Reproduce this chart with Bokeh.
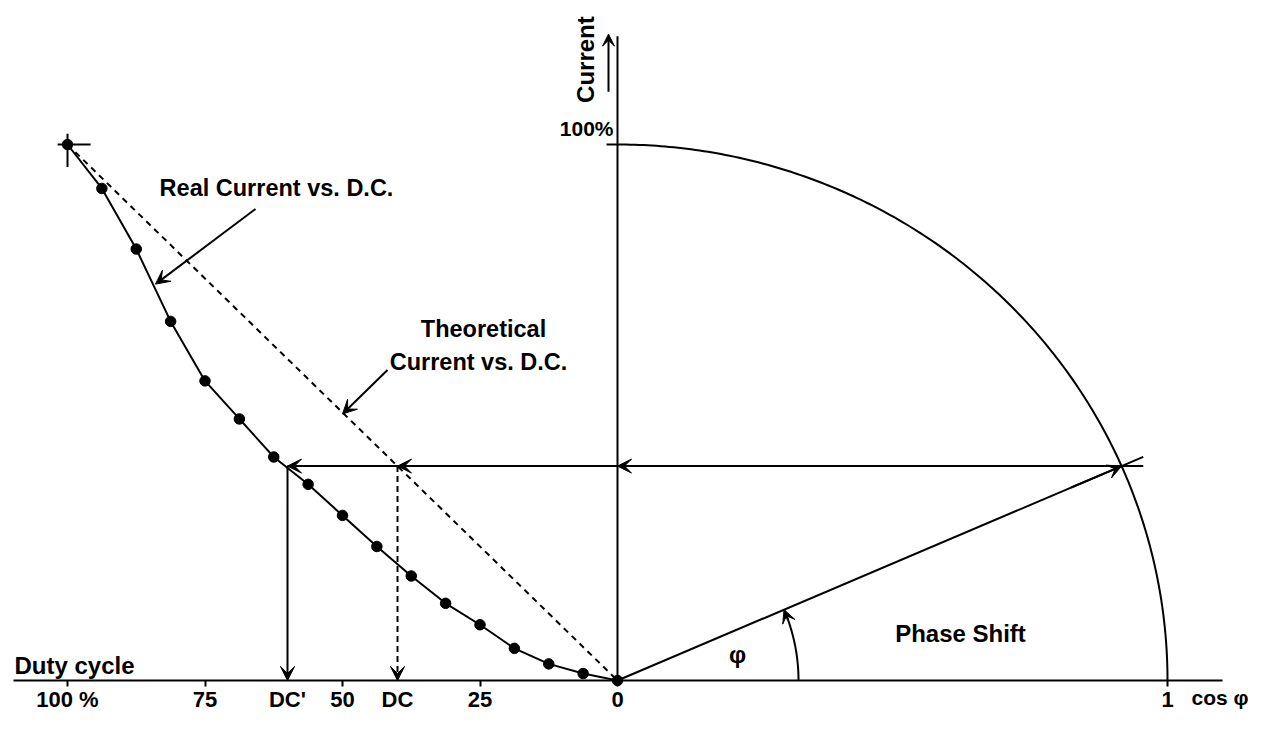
import math
import numpy as np
from bokeh.plotting import figure
from bokeh.models import LinearAxis, FixedTicker, Label, Arrow, VeeHead
from bokeh.embed import file_html
from bokeh.resources import INLINE

# ---------------- data ----------------
duty_cycle_pct = [100, 93.75, 87.5, 81.25, 75, 68.75, 62.5, 56.25, 50,
                  43.75, 37.5, 31.25, 25, 18.75, 12.5, 6.25, 0]
real_current = [1.0, 0.918, 0.805, 0.670, 0.559, 0.488, 0.417, 0.366, 0.308,
                0.250, 0.195, 0.144, 0.104, 0.060, 0.031, 0.013, 0.0]
theory_duty = [100, 0]
theory_current = [1.0, 0.0]
duty_ticks = [100, 75, 50, 25, 0]
duty_tick_labels = ["100 %", "75", "50", "25", "0"]
cos_ticks = [1]
cos_tick_labels = ["1"]
dc_marks = [60, 40]            # DC' (real) and DC (theoretical)
dc_labels = ["DC'", "DC"]
current_level = 0.4

# ---------------- geometry ----------------
W, H = 1248, 713
SX, OX = 550.0, 617.0          # px per unit and origin (x)
SY, OY = 536.0, 680.0          # px per unit and origin (y)

def dx(duty):                  # duty cycle % -> x (left side negative)
    return -duty / 100.0

def ref(x, y):                 # reference-picture pixel -> data (annotation placement)
    return (x - 617.0) / 550.0, (693.0 - y) / 549.0

p = figure(width=W, height=H, output_backend="svg", toolbar_location=None,
           x_range=(-OX / SX, (W - OX) / SX), y_range=((OY - H) / SY, OY / SY),
           x_axis_type=None, y_axis_type=None, min_border=0,
           background_fill_color="white", border_fill_color="white")
p.outline_line_color = None

FONT = "Liberation Sans"
K = "black"

# ---------------- axes ----------------
def make_axis(ticks, labels, tick_color):
    return LinearAxis(fixed_location=0, ticker=FixedTicker(ticks=ticks),
                      major_label_overrides={t: l for t, l in zip(ticks, labels)},
                      axis_line_color=None, major_tick_in=0, major_tick_out=6,
                      major_tick_line_width=2, major_tick_line_color=tick_color,
                      minor_tick_line_color=None, major_label_standoff=0,
                      major_label_text_font=FONT, major_label_text_font_size="22px",
                      major_label_text_font_style="bold", major_label_text_color=K)

xticks = [dx(d) for d in duty_ticks] + cos_ticks
p.add_layout(make_axis(xticks, duty_tick_labels + cos_tick_labels, K), "below")
dticks = [dx(d) for d in dc_marks]
p.add_layout(make_axis(dticks, dc_labels, None), "below")

xa, _ = ref(13, 0)
xb, _ = ref(1222, 0)
p.segment(x0=[xa], y0=[0], x1=[xb], y1=[0], line_color=K, line_width=2)
_, ytop = ref(0, 33)
p.segment(x0=[0], y0=[0], x1=[0], y1=[ytop], line_color=K, line_width=2)
xt, _ = ref(606, 0)
p.segment(x0=[xt], y0=[1.0], x1=[0], y1=[1.0], line_color=K, line_width=2)

# unit quarter circle: x = cos(phi), y = sin(phi)
t = np.linspace(0, math.pi / 2, 200)
p.line(np.cos(t), np.sin(t), line_color=K, line_width=2)

# theoretical (dashed) line
p.line([dx(d) for d in theory_duty], theory_current, line_color=K,
       line_width=2, line_dash="6 5")

# real current curve
rx = [dx(d) for d in duty_cycle_pct]
p.line(rx, real_current, line_color=K, line_width=2)
p.scatter(rx, real_current, size=10.5, fill_color=K, line_color=K)

# cross marker at 100 %
p.segment(x0=[dx(100) - 0.018], y0=[1.0], x1=[dx(100) + 0.042], y1=[1.0],
          line_color=K, line_width=2)
p.segment(x0=[dx(100)], y0=[1.0 + 0.02], x1=[dx(100)], y1=[1.0 - 0.042],
          line_color=K, line_width=2)

def vee(size=14):
    return VeeHead(size=size, fill_color=K, line_color=K, line_width=1)

def arrow(xs, ys, xe, ye, size=14, dash="solid"):
    p.add_layout(Arrow(end=vee(size), x_start=xs, y_start=ys, x_end=xe, y_end=ye,
                       line_color=K, line_width=2, line_dash=dash))

# phase line
cos_phi = math.sqrt(1 - current_level ** 2)
ext = 1.043
p.segment(x0=[0], y0=[0], x1=[cos_phi * ext], y1=[current_level * ext],
          line_color=K, line_width=2)
arrow(cos_phi * 0.9, current_level * 0.9, cos_phi, current_level)

# horizontal projection line with arrows
x_real = dx(dc_marks[0])
x_theo = dx(dc_marks[1])
p.segment(x0=[cos_phi * ext], y0=[current_level], x1=[x_real], y1=[current_level],
          line_color=K, line_width=2)
for xe in [0.0, x_theo, x_real]:
    arrow(xe + 0.05, current_level, xe, current_level)

# vertical drop arrows
arrow(x_real, current_level, x_real, 0)
arrow(x_theo, current_level, x_theo, 0, dash="6 4")

# phase angle arc (circular on screen) with arrow
r_px = 181.0
theta = math.atan2(current_level * SY, cos_phi * SX)
ta = np.linspace(0, theta, 60)
p.line(r_px * np.cos(ta) / SX, r_px * np.sin(ta) / SY, line_color=K, line_width=2)
a0 = theta - 0.06
arrow(r_px * math.cos(a0) / SX, r_px * math.sin(a0) / SY,
      r_px * math.cos(theta) / SX, r_px * math.sin(theta) / SY, size=13)

# callout arrows
arrow(*ref(255, 210), *ref(155, 287))
arrow(*ref(387, 375), *ref(342, 420))
# current-axis arrow
arrow(*ref(608, 90), *ref(608, 31), size=12)

# ---------------- texts ----------------
def label(text, x, y, size, align="center", angle=0.0):
    lx, ly = ref(x, y)
    p.add_layout(Label(x=lx, y=ly, text=text, text_align=align,
                       text_baseline="middle", angle=angle,
                       text_font=FONT, text_font_size=size,
                       text_font_style="bold", text_color=K))

label("Duty cycle", 14, 678, "24px", align="left")
label("Real Current vs. D.C.", 276, 189, "23.5px")
label("Theoretical", 483, 333, "23.5px")
label("Current vs. D.C.", 478, 367, "23.5px")
label("Phase Shift", 960, 645, "24px")
label("φ", 737, 666, "24px")
label("cos φ", 1191, 710, "21px", align="left")
label("100%", 613, 128, "21px", align="right")
label("Current", 585, 57, "24px", angle=math.pi / 2)

open("out.html", "w").write(file_html(p, INLINE))
